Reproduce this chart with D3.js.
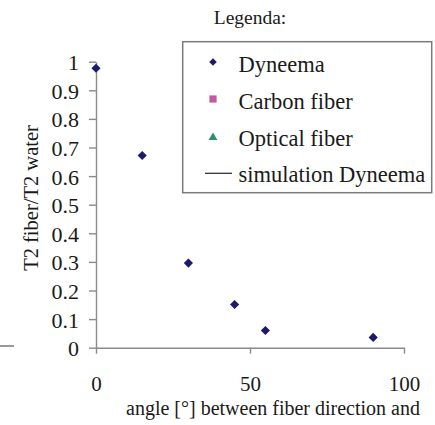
<!DOCTYPE html>
<html>
<head>
<meta charset="utf-8">
<script src="https://cdn.jsdelivr.net/npm/d3@7"></script>
<style>
  body { margin: 0; background: #fff; }
  svg { display: block; }
</style>
</head>
<body>
<svg id="chart" width="435" height="425"></svg>
<script>
"use strict";

//
// Data
//

var angles = [0, 15, 30, 45, 55, 90];
var dyneemaRatio = [0.977, 0.672, 0.296, 0.151, 0.060, 0.036];

var xTicks = [0, 50, 100];
var yTicks = [0, 0.1, 0.2, 0.3, 0.4, 0.5, 0.6, 0.7, 0.8, 0.9, 1];

var legendLabels = ["Dyneema", "Carbon fiber", "Optical fiber", "simulation Dyneema"];
var legendKinds = ["diamond", "square", "triangle", "line"];
var legendColors = ["#1c1a6b", "#c25a9e", "#2f8f6c", "#222"];

var serif = "Liberation Serif";
var ink = "#1a1a1a";


//
// Scales and axes
//

var svg = d3.select("#chart");

var x = d3.scaleLinear().domain([0, 100]).range([96, 404]);
var y = d3.scaleLinear().domain([0, 1]).range([347.7, 61.7]);

var axisColor = "#8a8a8a";

var yAxis = svg.append("g")
    .attr("transform", "translate(" + x(0) + ",0)")
    .call(d3.axisLeft(y)
        .tickValues(yTicks)
        .tickFormat(d3.format("~g"))
        .tickSize(7)
        .tickSizeOuter(0)
        .tickPadding(10));

var xAxis = svg.append("g")
    .attr("transform", "translate(0," + y(0) + ")")
    .call(d3.axisBottom(x)
        .tickValues(xTicks)
        .tickSize(6)
        .tickSizeOuter(0)
        .tickPadding(22));

[xAxis, yAxis].forEach(function (g) {
    g.attr("font-family", serif);
    g.select(".domain").attr("stroke", axisColor).attr("stroke-width", 1.4);
    g.selectAll(".tick line").attr("stroke", axisColor).attr("stroke-width", 1.4);
    g.selectAll(".tick text").attr("fill", ink);
});

yAxis.attr("font-size", 22);
yAxis.selectAll(".tick text").attr("dy", "0.36em");
xAxis.attr("font-size", 21);


//
// Axis titles
//

function label(sel, size) {
    return sel.attr("font-family", serif).attr("font-size", size).attr("fill", ink);
}

label(svg.append("text"), 20)
    .attr("x", 273)
    .attr("y", 415)
    .attr("text-anchor", "middle")
    .text("angle [°] between fiber direction and");

label(svg.append("text"), 20.5)
    .attr("transform", "translate(38,198) rotate(-90)")
    .attr("text-anchor", "middle")
    .text("T2 fiber/T2 water");

// stray edge of the neighbouring figure
svg.append("line")
    .attr("x1", 0).attr("x2", 14)
    .attr("y1", 346).attr("y2", 346)
    .attr("stroke", "#999")
    .attr("stroke-width", 2);


//
// Points
//

var diamond = d3.symbol().type(d3.symbolSquare).size(42);

svg.append("g")
    .selectAll("path")
    .data(angles)
    .enter()
    .append("path")
    .attr("d", diamond)
    .attr("transform", function (d, i) {
        return "translate(" + x(d) + "," + y(dyneemaRatio[i]) + ") rotate(45)";
    })
    .attr("fill", legendColors[0]);


//
// Legend
//

label(svg.append("text"), 19.5)
    .attr("x", 250)
    .attr("y", 24)
    .attr("text-anchor", "middle")
    .text("Legenda:");

svg.append("rect")
    .attr("x", 182.7)
    .attr("y", 41.7)
    .attr("width", 249)
    .attr("height", 151)
    .attr("fill", "#fff")
    .attr("stroke", "#7a7a7a")
    .attr("stroke-width", 1.5);

var rowBase = [71.5, 108.5, 146, 182];
var rowMark = [62, 99, 137.5, 173.3];

var legendRow = svg.append("g")
    .selectAll("g")
    .data(legendLabels)
    .enter()
    .append("g");

label(legendRow.append("text"), 22.5)
    .attr("x", 238.5)
    .attr("y", function (d, i) { return rowBase[i]; })
    .text(function (d) { return d; });

legendRow.each(function (d, i) {
    var g = d3.select(this),
        kind = legendKinds[i],
        cy = rowMark[i];

    if (kind === "line") {
        g.append("line")
            .attr("x1", 205).attr("x2", 232)
            .attr("y1", cy).attr("y2", cy)
            .attr("stroke", legendColors[i])
            .attr("stroke-width", 1.2);
    } else {
        var type = kind === "triangle" ? d3.symbolTriangle : d3.symbolSquare,
            size = kind === "square" ? 52 : kind === "triangle" ? 34 : 28,
            rot = kind === "diamond" ? " rotate(45)" : "";
        g.append("path")
            .attr("d", d3.symbol().type(type).size(size))
            .attr("transform", "translate(213," + cy + ")" + rot)
            .attr("fill", legendColors[i]);
    }
});
</script>
</body>
</html>
